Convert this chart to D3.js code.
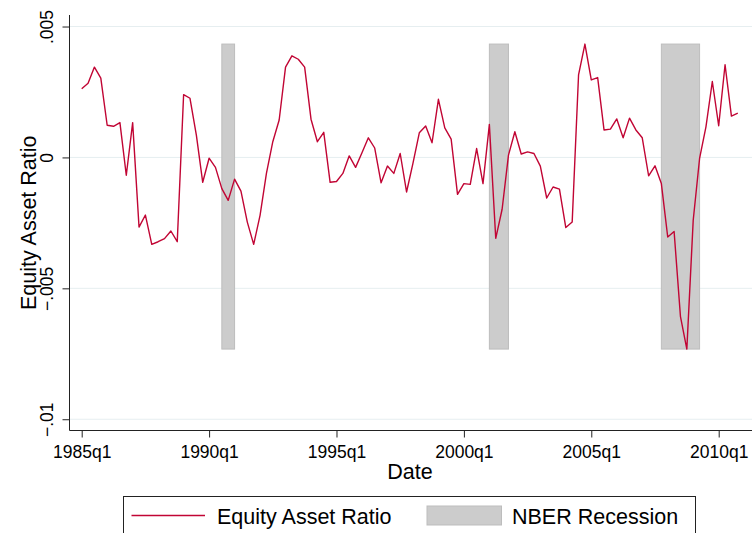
<!DOCTYPE html>
<html>
<head>
<meta charset="utf-8">
<script src="https://cdn.jsdelivr.net/npm/d3@7"></script>
<style>
    body { margin: 0; background: #fff; }
    svg { display: block; font-family: "Liberation Sans", Arial, sans-serif; }
    .tick text { font-size: 17.5px; fill: #000; }
    .title { font-size: 21.5px; fill: #000; }
</style>
</head>
<body>
<div id="root"></div>
<script>
const WIDTH = 752;
const HEIGHT = 533;

// quarters since 1985q1
const startYear = 1985;
const ratio = [
    .00262, .00283, .00345, .00303, .00123, .00119, .00133, -.00068,
    .00133, -.00266, -.0022, -.00332, -.00322, -.0031, -.00281, -.00322,
    .0024, .00226, .00085, -.00095, -.00003, -.00038, -.00119, -.00164,
    -.00083, -.00129, -.00247, -.00332, -.00221, -.00061, .0006, .00143,
    .00345, .00388, .00375, .00345, .00146, .0006, .00096, -.00095,
    -.00092, -.00061, .00006, -.00038, .00018, .00075, .00036, -.00097,
    -.00033, -.00061, .00015, -.00132, -.00023, .00094, .0012, .00056,
    .00222, .00113, .0007, -.00141, -.001, -.00103, .00034, -.001,
    .00126, -.00309, -.00198, .00009, .00098, .00013, .00021, .00015,
    -.00033, -.00155, -.00113, -.00121, -.00268, -.00247, .00315, .00433,
    .00296, .00305, .00105, .00108, .00147, .00075, .0015, .00105,
    .00075, -.0007, -.00032, -.001, -.00304, -.00283, -.00608, -.00732,
    -.0024, -.00004, .00117, .0029, .00121, .00354, .00158, .00169
];
// NBER recessions, start/end quarter index
const recessions = [[22, 24], [64, 67], [91, 97]];
const xTicks = [0, 20, 40, 60, 80, 100];
const yTicks = [.005, 0, -.005, -.01];
const yTickLabels = ['.005', '0', '\u2212.005', '\u2212.01'];

const plot = { left: 69.5, right: 752, top: 15, bottom: 430.5 };

const data = ratio.map((v, i) => ({ q: i, v }));
const fmtQ = i => `${startYear + Math.floor(i / 4)}q${i % 4 + 1}`;

const x = d3.scaleLinear().domain([0, ratio.length - 1]).range([81.7, 737.8]);
const y = d3.scaleLinear().domain([-0.01043, 0.00544]).range([plot.bottom, plot.top]);

const svg = d3.select('#root').append('svg')
    .attr('width', WIDTH)
    .attr('height', HEIGHT);

// gridlines
svg.append('g')
    .selectAll('line')
    .data(yTicks)
    .enter().append('line')
        .attr('x1', plot.left)
        .attr('x2', plot.right)
        .attr('y1', d => y(d))
        .attr('y2', d => y(d))
        .attr('stroke', '#e6eef0')
        .attr('stroke-width', 1);

// recession bars span the data range
const [vMin, vMax] = d3.extent(ratio);
svg.append('g')
    .selectAll('rect')
    .data(recessions)
    .enter().append('rect')
        .attr('x', d => x(d[0]))
        .attr('width', d => x(d[1]) - x(d[0]))
        .attr('y', y(vMax))
        .attr('height', y(vMin) - y(vMax))
        .attr('fill', '#cccccc')
        .attr('stroke', '#bdbdbd')
        .attr('stroke-width', 1);

const line = d3.line()
    .x(d => x(d.q))
    .y(d => y(d.v));

svg.append('path')
    .datum(data)
    .attr('d', line)
    .attr('fill', 'none')
    .attr('stroke', '#c10534')
    .attr('stroke-width', 1.4)
    .attr('stroke-linejoin', 'round');

// y axis
const yAxis = d3.axisLeft(y)
    .tickValues(yTicks)
    .tickSize(7)
    .tickPadding(0)
    .tickFormat((d, i) => yTickLabels[i]);

const gy = svg.append('g')
    .attr('transform', `translate(${plot.left}, 0)`)
    .call(yAxis);
gy.select('.domain').remove();
gy.selectAll('.tick line').attr('stroke', '#222');
gy.selectAll('.tick text')
    .attr('x', 0)
    .attr('dy', null)
    .attr('transform', 'translate(-16.5, 0) rotate(-90)')
    .style('text-anchor', 'middle');
gy.append('line')
    .attr('y1', plot.top)
    .attr('y2', plot.bottom)
    .attr('stroke', '#222');

// x axis
const xAxis = d3.axisBottom(x)
    .tickValues(xTicks)
    .tickSize(7)
    .tickPadding(8)
    .tickFormat(fmtQ);

const gx = svg.append('g')
    .attr('transform', `translate(0, ${plot.bottom})`)
    .call(xAxis);
gx.select('.domain').remove();
gx.selectAll('.tick line').attr('stroke', '#222');
gx.append('line')
    .attr('x1', plot.left)
    .attr('x2', plot.right)
    .attr('stroke', '#222');

// axis titles
svg.append('text')
    .classed('title', true)
    .attr('x', (plot.left + plot.right) / 2 - 0)
    .attr('y', 479)
    .attr('transform', null)
    .style('text-anchor', 'middle')
    .text('Date')
    .attr('x', 410);

svg.append('text')
    .classed('title', true)
    .attr('transform', `translate(36, ${(plot.top + plot.bottom) / 2}) rotate(-90)`)
    .style('text-anchor', 'middle')
    .text('Equity Asset Ratio');

// legend
const legend = svg.append('g');
legend.append('rect')
    .attr('x', 123.5)
    .attr('y', 496.5)
    .attr('width', 572)
    .attr('height', 50)
    .attr('fill', '#fff')
    .attr('stroke', '#222');

legend.append('line')
    .attr('x1', 131.5)
    .attr('x2', 205)
    .attr('y1', 515.5)
    .attr('y2', 515.5)
    .attr('stroke', '#c10534')
    .attr('stroke-width', 1.4);

legend.append('text')
    .classed('title', true)
    .attr('x', 217)
    .attr('y', 523.5)
    .text('Equity Asset Ratio');

legend.append('rect')
    .attr('x', 427)
    .attr('y', 506)
    .attr('width', 74.5)
    .attr('height', 19)
    .attr('fill', '#cccccc')
    .attr('stroke', '#bdbdbd');

legend.append('text')
    .classed('title', true)
    .attr('x', 512)
    .attr('y', 523.5)
    .text('NBER Recession');
</script>
</body>
</html>
